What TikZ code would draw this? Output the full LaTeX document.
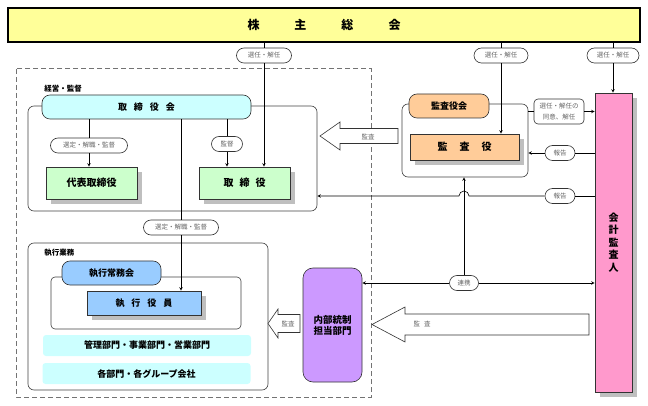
\documentclass[tikz,border=0pt]{standalone}
\usepackage{fontspec}
\setmainfont{Noto Sans CJK JP}
\usetikzlibrary{shadows}

\definecolor{kabu}{HTML}{FFFF99}
\definecolor{cyanlt}{HTML}{CCFFFF}
\definecolor{greenlt}{HTML}{CCFFCC}
\definecolor{bluelt}{HTML}{99CCFF}
\definecolor{orangelt}{HTML}{FFCC99}
\definecolor{pinklt}{HTML}{FF99CC}
\definecolor{purplelt}{HTML}{CC99FF}

\begin{document}
\begin{tikzpicture}[x=1pt, y=-1pt, >=stealth, line width=0.6pt,
  grp/.style={draw=black!75, rounded corners=6pt, inner sep=0pt},
  pill/.style={draw=black!80, rounded corners=7.5pt, fill=white, inner sep=1pt,
    minimum height=15pt, font=\fontsize{6.5}{7}\selectfont, text=black!60},
  heading/.style={draw=black!80, rounded corners=8pt, inner sep=0pt,
    minimum height=24pt, font=\fontsize{9}{10}\selectfont\bfseries},
  box/.style={draw=black!80, inner sep=0pt, font=\fontsize{10}{11}\selectfont\bfseries,
    drop shadow={shadow xshift=5pt, shadow yshift=-5pt, fill=black!25, opacity=1}},
  band/.style={fill=cyanlt, rounded corners=3pt, inner sep=0pt, minimum width=208pt,
    minimum height=21pt, font=\fontsize{9}{10}\selectfont\bfseries},
  hollow/.style={draw=black!80, fill=white, line join=miter},
  tag/.style={font=\fontsize{7.5}{8}\selectfont\bfseries, anchor=west, inner sep=0pt},
  note/.style={font=\fontsize{6.5}{7}\selectfont, text=black!60, inner sep=0pt}]

\useasboundingbox (0,0) rectangle (648,406);

% Shareholders' meeting
\node[draw, line width=1.5pt, fill=kabu, minimum width=632pt, minimum height=34pt,
  inner sep=0pt, font=\fontsize{12}{12}\selectfont\bfseries] (meeting) at (324,25)
  {株\hspace{35pt}主\hspace{35pt}総\hspace{35pt}会};

% Company frame
\draw[black!55, line width=1pt, dash pattern=on 5pt off 3pt] (16,69) rectangle (371,397);

% Board of directors
\node[grp, minimum width=289pt, minimum height=105pt] (boardgrp) at (172.5,158.5) {};
\node[tag] (keiei) at (44,89) {経営・監督};
\node[heading, fill=cyanlt, minimum width=209pt] (board) at (146.5,107)
  {取\hspace{7pt}締\hspace{7pt}役\hspace{7pt}会};
\node[box, fill=greenlt, minimum width=91pt, minimum height=32pt] (daihyo) at (91.5,183) {代表取締役};
\node[box, fill=greenlt, minimum width=91pt, minimum height=32pt] (dir) at (244.5,183)
  {取\hspace{6pt}締\hspace{6pt}役};

% Execution
\node[grp, minimum width=240pt, minimum height=147pt] (execgrp) at (148,316.5) {};
\node[tag] (shikko) at (44,253) {執行業務};
\node[grp, rounded corners=4pt, minimum width=190pt, minimum height=52pt] (officegrp) at (146,303) {};
\node[heading, fill=bluelt, minimum width=99pt] (execcom) at (111.5,273) {執行常務会};
\node[box, fill=bluelt, minimum width=114pt, minimum height=24pt,
  font=\fontsize{9}{10}\selectfont\bfseries] (officer) at (144,303)
  {執\hspace{7pt}行\hspace{7pt}役\hspace{7pt}員};
\node[band] (depts) at (147,345.5) {管理部門・事業部門・営業部門};
\node[band] (groupco) at (146.5,373.5) {各部門・各グループ会社};

% Corporate auditors
\node[grp, minimum width=126pt, minimum height=73pt] (auditgrp) at (465,140.5) {};
\node[heading, fill=orangelt, minimum width=80pt] (auditboard) at (449,106) {監査役会};
\node[box, fill=orangelt, minimum width=109pt, minimum height=26pt] (auditor) at (464.5,147)
  {監\hspace{12pt}査\hspace{12pt}役};

% Accounting auditor
\node[box, fill=pinklt, minimum width=37pt, minimum height=299pt, align=center,
  font=\fontsize{10}{12.5}\selectfont\bfseries] (acct) at (613.5,242.5) {会\\計\\監\\査\\人};

% Internal control
\node[draw=black!80, fill=purplelt, rounded corners=10pt, minimum width=59pt,
  minimum height=114pt, inner sep=0pt, align=center,
  font=\fontsize{9.5}{11}\selectfont\bfseries] (ic) at (332.5,325) {内部統制\\担当部門};

% Labels on the lines
\node[pill, minimum width=55pt] (el1) at (264,55.5) {選任・解任};
\node[pill, minimum width=54pt] (el2) at (501,55.5) {選任・解任};
\node[pill, minimum width=52pt] (el3) at (613,55.5) {選任・解任};
\node[pill, minimum width=77pt] (sel1) at (89,145.5) {選定・解職・監督};
\node[pill, minimum width=31pt] (watch) at (227,144) {監督};
\node[pill, minimum width=75pt] (sel2) at (181,227.5) {選定・解職・監督};
\node[draw=black!80, rounded corners=4pt, fill=white, minimum width=50pt, minimum height=25pt,
  inner sep=0pt, align=center, font=\fontsize{6.5}{11}\selectfont, text=black!60]
  (consent) at (559,111.5) {選任・解任の\\同意、解任};
\node[pill, minimum width=30pt] (rpt1) at (560,153) {報告};
\node[pill, minimum width=30pt] (rpt2) at (560,196) {報告};
\node[pill, minimum width=29pt] (liaison) at (464,283) {連携};

% Appointment lines
\draw (meeting.south -| el1) -- (el1);
\draw[->] (el1) -- (el1 |- dir.north);
\draw (meeting.south -| el2) -- (el2);
\draw[->] (el2) -- (el2 |- auditor.north);
\draw (meeting.south -| el3) -- (el3);
\draw[->] (el3) -- (el3 |- acct.north);

% Board to directors and officers
\draw (board.south -| sel1) -- (sel1);
\draw[->] (sel1) -- (sel1 |- daihyo.north);
\draw (board.south -| watch) -- (watch);
\draw[->] (watch) -- (watch |- dir.north);
\draw (board.south -| sel2) -- (sel2);
\draw[->] (sel2) -- (sel2 |- officer.north);

% Auditors and accounting auditor
\draw (auditgrp.east |- consent) -- (consent);
\draw[->] (consent) -- (acct.west |- consent);
\draw (acct.west |- rpt1) -- (rpt1);
\draw[->] (rpt1) -- (auditgrp.east |- rpt1);
\coordinate (hop) at (liaison |- rpt2);
\draw (acct.west |- rpt2) -- (rpt2);
\draw[->] (rpt2) -- ([xshift=5pt]hop) arc (0:180:5pt) -- (boardgrp.east |- hop);

% Liaison
\draw[->] (liaison) -- (liaison |- auditgrp.south);
\draw[->] (liaison) -- (ic.east |- liaison);
\draw[->] (liaison) -- (acct.west |- liaison);

% Audit arrows
\draw[hollow] (320,136) -- ++(20,-14) -- ++(0,6.5) -- (398,128.5) -- (398,143.5)
  -- (340,143.5) -- ++(0,6.5) -- cycle;
\node[note] (audit1txt) at (368,137) {監査};
\draw[hollow] (372,324.5) -- ++(33,-17.5) -- ++(0,7) -- (589,314) -- (589,335)
  -- (405,335) -- ++(0,7) -- cycle;
\node[note] (audit2txt) at (422,324) {監\hspace{4pt}査};
\draw[hollow] (268,323.5) -- ++(10,-14.5) -- ++(0,5.5) -- (300,314.5) -- (300,332.5)
  -- (278,332.5) -- ++(0,5.5) -- cycle;
\node[note] (audit3txt) at (288,324) {監査};

\end{tikzpicture}
\end{document}
